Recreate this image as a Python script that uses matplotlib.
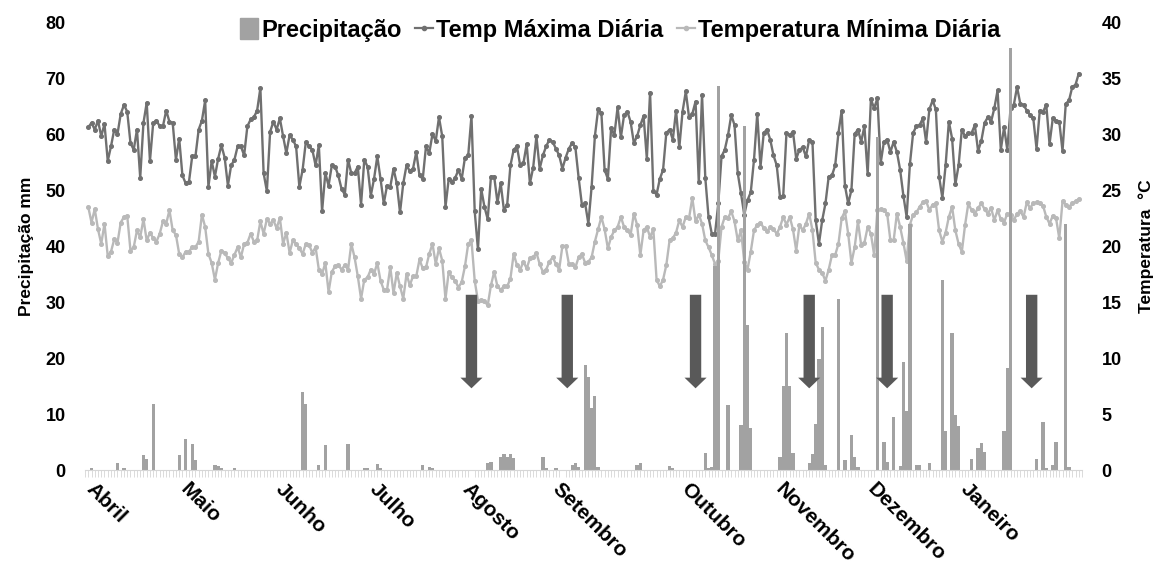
import numpy as np
import matplotlib
matplotlib.use("Agg")
import matplotlib.pyplot as plt
from matplotlib.patches import Patch
from matplotlib.lines import Line2D
from matplotlib.ticker import MultipleLocator

plt.rcParams["font.family"] = ["Liberation Sans", "DejaVu Sans"]
plt.rcParams["font.weight"] = "bold"

# daily maximum temperature (°C), April -> early February
temp_max = [
    30.6, 31.0, 30.4, 31.2, 29.8, 30.9, 27.6, 28.9, 30.4, 30.0,
    31.8, 32.6, 32.0, 29.2, 28.6, 30.4, 26.1, 31.0, 32.8, 27.6,
    31.0, 31.2, 30.7, 30.7, 32.1, 31.1, 31.0, 27.7, 29.6, 26.3,
    25.6, 25.7, 28.0, 28.0, 30.4, 31.2, 33.0, 25.3, 27.6, 26.2,
    27.8, 29.0, 27.9, 25.4, 27.2, 27.7, 28.9, 28.9, 28.1, 30.7,
    31.3, 31.5, 32.1, 34.1, 26.5, 24.9, 30.2, 31.1, 30.4, 31.4,
    29.8, 28.3, 29.9, 29.5, 28.9, 25.3, 26.8, 29.3, 28.9, 28.6,
    27.2, 29.0, 23.1, 26.5, 25.4,
    27.2, 27.1, 26.3, 25.1, 24.6, 27.7, 26.5, 26.5, 27.1, 23.7,
    27.7, 27.1, 24.5, 26.0, 28.0, 26.0, 23.8, 25.4, 25.3, 26.9,
    25.6, 23.0, 25.6, 27.2, 26.7, 26.9, 28.4, 26.3, 26.0, 28.9,
    28.3, 30.0, 29.4, 31.5, 29.8, 23.5, 26.0, 25.7, 26.1, 26.8,
    26.0, 27.9, 28.1, 31.6, 23.1, 19.7, 25.1, 23.5, 22.4, 26.2,
    26.2, 23.9, 25.6, 23.2, 23.7, 27.2, 28.6, 28.9, 27.2, 27.4,
    29.1, 25.6, 27.0, 29.8, 26.9, 28.1, 28.9, 29.5, 29.3, 28.7,
    28.1, 26.9, 27.9, 28.7, 29.2, 28.8, 26.1, 23.7,
    23.8, 22.0, 25.3, 29.8, 32.2, 31.9, 26.8, 26.0, 30.5, 29.9,
    32.4, 29.7, 31.7, 32.0, 31.1, 29.2, 29.8, 30.8, 31.6, 27.8,
    33.7, 24.9, 24.6, 26.0, 26.8, 30.1, 30.4, 29.5, 32.1, 28.8,
    32.0, 33.8, 31.5, 31.8, 32.9, 25.7, 33.5, 26.1, 22.6, 21.1,
    21.1, 23.8, 28.0, 28.6, 29.9, 31.7, 30.8, 26.5, 24.7, 22.8,
    24.1, 24.8, 27.7, 31.8, 27.1, 30.1, 30.4, 29.5, 28.1, 27.2,
    24.4, 24.5, 30.1, 29.9, 30.2, 27.8, 28.6, 28.8, 28.0, 29.5,
    29.3, 22.3, 20.2, 22.3, 23.8, 26.2, 26.3,
    27.2, 30.1, 32.1, 25.4, 23.8, 25.0, 30.0, 30.4, 29.3, 30.7,
    26.4, 33.1, 32.3, 33.2, 27.4, 29.3, 29.5, 28.4, 29.3, 28.4,
    26.8, 24.5, 22.6, 27.3, 30.1, 30.7, 30.8, 31.4, 29.3, 32.2,
    33.0, 32.2, 26.2, 24.3, 27.2, 31.1, 29.6, 25.5, 27.2, 30.4,
    29.8, 30.1, 30.1, 30.8, 28.5, 29.4, 31.0, 31.5, 31.1, 32.3,
    33.9, 28.6, 30.6, 28.6, 32.3, 32.6, 34.2, 32.7, 32.6, 32.1,
    31.7, 31.4, 28.7, 32.1, 32.0, 32.6, 29.1, 31.4, 31.2, 31.1,
    28.5, 32.7, 33.0, 34.2, 34.4, 35.4,
]

# daily minimum temperature (°C)
temp_min = [
    23.5, 22.1, 23.3, 21.5, 20.2, 22.0, 19.1, 19.5, 20.6, 20.3,
    22.1, 22.6, 22.7, 19.6, 19.9, 21.4, 20.8, 22.4, 20.5, 21.2,
    20.7, 20.4, 21.1, 22.2, 22.0, 23.2, 21.4, 21.0, 19.3, 19.0,
    19.5, 19.5, 19.9, 19.9, 20.4, 22.8, 21.7, 19.3, 18.5, 17.0,
    18.5, 19.6, 19.4, 18.9, 18.5, 19.2, 19.9, 19.0, 20.2, 20.3,
    21.1, 20.4, 20.5, 22.2, 21.1, 22.4, 22.0, 22.3, 21.6, 22.5,
    20.2, 21.2, 19.4, 20.5, 20.2, 19.8, 19.3, 20.2, 20.1, 19.4,
    19.9, 17.9, 17.5, 18.5, 15.9,
    17.7, 18.2, 18.3, 17.9, 18.3, 17.9, 20.2, 19.0, 17.3, 15.3,
    17.0, 17.2, 17.9, 17.5, 18.5, 16.9, 16.1, 16.1, 18.1, 15.8,
    17.6, 16.4, 15.3, 17.5, 16.5, 17.3, 17.3, 18.8, 18.0, 18.1,
    19.3, 20.2, 18.4, 19.8, 18.7, 15.3, 17.7, 17.2, 16.9, 16.3,
    16.8, 18.2, 20.2, 20.5, 16.9, 15.1, 15.2, 15.1, 14.7, 16.5,
    17.7, 16.4, 16.1, 16.4, 16.4, 17.1, 19.3, 18.3, 17.9, 18.6,
    18.0, 18.9, 19.0, 19.4, 18.4, 17.7, 17.9, 18.6, 19.0, 18.4,
    17.9, 20.0, 20.0, 18.4, 18.4, 18.1, 19.0, 19.3,
    18.5, 18.6, 19.0, 20.4, 21.5, 22.6, 21.5, 19.8, 20.8, 21.4,
    21.7, 22.6, 21.7, 21.4, 21.0, 22.9, 21.9, 19.2, 21.4, 21.7,
    20.8, 21.5, 17.0, 16.4, 17.0, 18.3, 20.5, 20.7, 21.2, 22.3,
    21.7, 22.6, 22.5, 24.3, 22.2, 22.8, 22.0, 20.5, 19.9, 19.2,
    18.4, 18.7, 21.7, 22.6, 22.5, 23.1, 22.2, 20.5, 21.4, 18.6,
    17.9, 19.5, 21.4, 21.9, 22.1, 21.6, 21.3, 21.7, 21.5, 21.1,
    21.7, 22.6, 21.9, 22.6, 21.5, 19.6, 21.9, 21.4, 22.0, 22.9,
    21.4, 18.5, 17.9, 17.6, 16.9, 17.9, 19.2,
    19.2, 20.2, 22.5, 23.1, 21.1, 18.5, 19.9, 22.2, 20.1, 20.3,
    21.7, 21.1, 19.2, 23.2, 23.3, 23.2, 22.9, 20.5, 20.5, 22.9,
    21.7, 20.3, 18.7, 21.9, 22.8, 23.0, 23.5, 23.9, 24.0, 23.2,
    23.7, 23.8, 21.4, 20.4, 21.2, 22.6, 23.5, 21.4, 20.2, 19.5,
    21.9, 23.8, 23.2, 22.9, 23.4, 23.8, 23.3, 22.9, 23.4, 22.3,
    23.2, 22.4, 22.1, 22.9, 22.8, 22.3, 22.9, 23.1, 22.6, 23.9,
    23.4, 23.8, 23.9, 23.8, 23.6, 22.6, 22.0, 22.7, 22.5, 20.7,
    24.0, 23.7, 23.5, 23.8, 24.0, 24.2,
]

# rainy days (day index from 1 April) and precipitation (mm)
rain_day = [
    1, 9, 11, 17, 18, 20, 28, 30, 32, 33, 39, 40, 41, 45,
    66, 67, 71, 73, 80, 85, 86, 89, 90, 103, 105, 106,
    123, 124, 127, 128, 129, 130, 131, 140, 141, 144, 149, 150, 151,
    153, 154, 155, 156, 157, 169, 170, 179, 180,
    190, 191, 192, 193, 194, 197, 201, 202, 203, 204,
    213, 214, 215, 216, 217, 222, 223, 224, 225, 226, 227,
    231, 233, 235, 236, 237, 243, 245, 246, 248, 250, 251, 252, 253,
    255, 256, 259, 263, 264, 266, 267, 268, 272, 274, 275, 276,
    282, 283, 284, 292, 294, 295, 297, 298, 301, 302,
]
rain_mm = [
    0.4, 1.3, 0.4, 2.7, 2.0, 11.8, 2.7, 5.5, 4.7, 1.8, 0.9, 0.7, 0.4, 0.4,
    14.0, 11.8, 0.9, 4.4, 4.6, 0.4, 0.4, 1.1, 0.4, 0.9, 0.5, 0.3,
    1.2, 1.5, 2.4, 2.8, 2.4, 2.9, 2.2, 2.3, 0.4, 0.3, 0.9, 1.3, 0.6,
    18.8, 16.7, 11.1, 13.2, 0.6, 0.9, 1.2, 0.7, 0.3,
    3.1, 0.4, 0.5, 36.5, 68.5, 11.6, 8.0, 61.4, 25.9, 7.5,
    2.4, 15.0, 24.4, 15.0, 3.0, 1.2, 2.9, 8.2, 19.8, 25.5, 0.9,
    30.5, 1.8, 6.3, 2.4, 0.6, 59.5, 5.1, 1.5, 9.5, 0.8, 19.3, 10.6, 43.9,
    0.9, 0.9, 1.2, 33.9, 6.9, 24.4, 9.8, 7.9, 2.0, 3.9, 4.9, 3.3,
    6.9, 18.2, 75.3, 2.0, 8.6, 0.4, 0.9, 5.1, 43.9, 0.6,
]

month_names = ["Abril", "Maio", "Junho", "Julho", "Agosto", "Setembro",
               "Outubro", "Novembro", "Dezembro", "Janeiro"]
month_day = [2.5, 31.5, 60.5, 89.5, 118, 146, 185.5, 214.5, 243, 271.5]

# dates marked with arrows
arrow_days = [118, 147.5, 187, 222, 246, 290.5]

days = np.arange(len(temp_max))
rain = np.zeros(len(days))
rain[rain_day] = rain_mm

fig = plt.figure(figsize=(11.55, 5.65), dpi=100)
ax = fig.add_axes([0.0736, 0.168, 0.8632, 0.793])
axt = ax.twinx()
ax.set_zorder(axt.get_zorder() + 1)
ax.patch.set_visible(False)

c_max, c_min, c_rain = "#707070", "#b9b9b9", "#a2a2a2"
axt.plot(days, temp_max, color=c_max, lw=1.7, marker="o", ms=2.6)
axt.plot(days[:len(temp_min)], temp_min, color=c_min, lw=1.7, marker="o", ms=2.6)
ax.bar(days, rain, width=1.0, color=c_rain)

for d in arrow_days:
    ax.arrow(d, 31.3, 0, -16.7, width=3.5, head_width=6.8, head_length=1.9,
             length_includes_head=True, color="#595959", lw=0)

ax.set_xlim(-1, len(days))
ax.set_ylim(0, 80)
axt.set_ylim(0, 40)
ax.set_yticks(np.arange(0, 81, 10))
axt.set_yticks(np.arange(0, 41, 5))

ax.set_xticks(month_day)
ax.set_xticklabels(month_names, rotation=-45, ha="left", va="top",
                   rotation_mode="anchor", fontsize=15)
ax.xaxis.set_minor_locator(MultipleLocator(1))
ax.tick_params(axis="x", which="major", length=0, pad=7)
ax.tick_params(axis="x", which="minor", length=5, color="#d6d6d6")
ax.tick_params(axis="y", length=0, labelsize=13, pad=14)
axt.tick_params(axis="y", length=0, labelsize=13, pad=14)

for a in (ax, axt):
    for s in ("top", "left", "right"):
        a.spines[s].set_visible(False)
ax.spines["bottom"].set_color("#d6d6d6")
axt.spines["bottom"].set_visible(False)

ax.set_ylabel("Precipitação mm", fontsize=12.5, fontweight="bold", labelpad=8)
axt.set_ylabel("Temperatura  °C", fontsize=12.5, fontweight="bold", labelpad=12)

handles = [
    Patch(color=c_rain),
    Line2D([], [], color=c_max, lw=1.6, marker="o", ms=3),
    Line2D([], [], color=c_min, lw=1.6, marker="o", ms=3),
]
ax.legend(handles, ["Precipitação", "Temp Máxima Diária", "Temperatura Mínima Diária"],
          loc="center", bbox_to_anchor=(0.537, 0.982), ncol=3, frameon=False,
          fontsize=17, handlelength=0.75, handleheight=1.0, handletextpad=0.12,
          columnspacing=0.6, borderaxespad=0)

fig.savefig("out.png", dpi=100)
